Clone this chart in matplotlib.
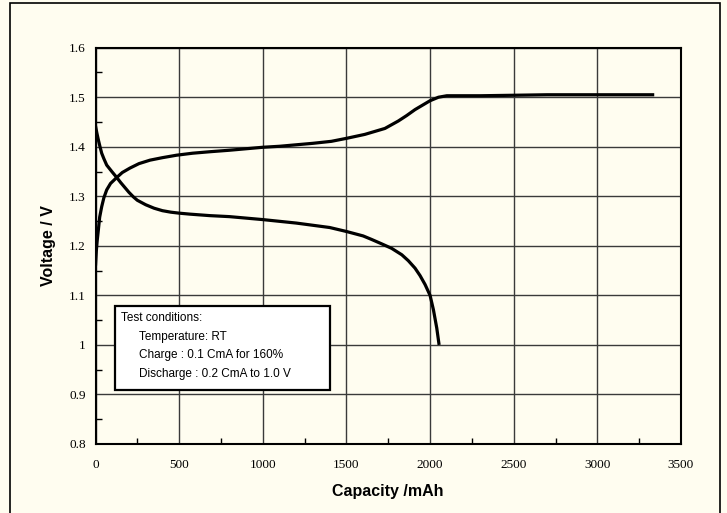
import matplotlib.pyplot as plt
from matplotlib.patches import Rectangle
from matplotlib.ticker import MultipleLocator

# charge curve (capacity mAh, voltage V)
charge_cap = [0, 5, 10, 17, 25, 37, 50, 67, 90, 127, 160, 206, 260, 326, 400, 485, 580, 684,
              800, 900, 1000, 1100, 1200, 1300, 1410, 1500, 1610, 1730, 1810, 1860, 1910, 1960,
              2000, 2050, 2100, 2300, 2500, 2700, 3000, 3340]
charge_v = [1.160, 1.190, 1.210, 1.232, 1.258, 1.279, 1.297, 1.313, 1.326, 1.338, 1.348, 1.357,
            1.366, 1.373, 1.378, 1.383, 1.387, 1.390, 1.393, 1.396, 1.399, 1.401, 1.404, 1.407,
            1.411, 1.417, 1.425, 1.437, 1.452, 1.463, 1.475, 1.485, 1.493, 1.500, 1.503, 1.503,
            1.504, 1.505, 1.505, 1.505]

# discharge curve
dis_cap = [0, 8, 17, 27, 37, 50, 67, 100, 127, 150, 200, 226, 250, 300, 350, 400, 450, 500,
           565, 684, 800, 1000, 1200, 1400, 1500, 1600, 1650, 1711, 1770, 1831, 1870, 1910,
           1940, 1970, 2000, 2020, 2040, 2054]
dis_v = [1.442, 1.428, 1.414, 1.400, 1.387, 1.376, 1.363, 1.349, 1.338, 1.328, 1.308, 1.299,
         1.292, 1.283, 1.276, 1.271, 1.268, 1.266, 1.264, 1.261, 1.259, 1.253, 1.246, 1.237,
         1.229, 1.220, 1.213, 1.204, 1.195, 1.182, 1.170, 1.155, 1.140, 1.122, 1.100, 1.071,
         1.034, 1.000]

x_ticks = [0, 500, 1000, 1500, 2000, 2500, 3000, 3500]
y_ticks = [0.8, 0.9, 1.0, 1.1, 1.2, 1.3, 1.4, 1.5, 1.6]
y_labels = ["0.8", "0.9", "1", "1.1", "1.2", "1.3", "1.4", "1.5", "1.6"]

conditions = ["Test conditions:", "Temperature: RT", "Charge : 0.1 CmA for 160%",
              "Discharge : 0.2 CmA to 1.0 V"]

bg = "#FFFDF0"
fig = plt.figure(figsize=(7.27, 5.13), dpi=100, facecolor=bg)
ax = fig.add_axes([95.5/727, 1-444/513, (681-95.5)/727, (444-47.7)/513])
ax.set_facecolor(bg)

# outer frame
fig.patches.append(Rectangle((10/727, -0.01), 710/727, 1.0-3/513+0.01, transform=fig.transFigure,
                             fill=False, edgecolor="black", linewidth=1.2))

ax.plot(charge_cap, charge_v, color="black", lw=2.3, zorder=3, solid_capstyle="butt",
        solid_joinstyle="round")
ax.plot(dis_cap, dis_v, color="black", lw=2.3, zorder=3, solid_capstyle="butt",
        solid_joinstyle="round")

ax.set_xlim(0, 3500)
ax.set_ylim(0.8, 1.6)
ax.set_xticks(x_ticks)
ax.set_yticks(y_ticks)
ax.set_yticklabels(y_labels)
ax.xaxis.set_minor_locator(MultipleLocator(250))
ax.yaxis.set_minor_locator(MultipleLocator(0.05))
ax.tick_params(which="both", direction="in", length=4, width=1, color="black")
ax.tick_params(axis="y", which="major", length=0, pad=7)
ax.tick_params(axis="x", which="major", length=0, pad=11)
for lab in ax.get_xticklabels() + ax.get_yticklabels():
    lab.set_family("Liberation Serif")
    lab.set_fontsize(9.5)
ax.grid(True, which="major", color="#3a3a3a", lw=1.0)
ax.set_axisbelow(True)
for s in ax.spines.values():
    s.set_linewidth(1.5)

ax.set_xlabel("Capacity /mAh", family="Liberation Sans", fontsize=11.5, fontweight="bold", labelpad=9)
ax.set_ylabel("Voltage / V", family="Liberation Sans", fontsize=11.5, fontweight="bold", labelpad=9)

# test condition box
ax.add_patch(Rectangle((117, 0.909), 1285, 0.170, facecolor="white", edgecolor="black",
                       linewidth=1.6, zorder=4))
ypos = [1.055, 1.017, 0.979, 0.941]
xpos = [150, 260, 260, 260]
for t, xx, yy in zip(conditions, xpos, ypos):
    ax.text(xx, yy, t, family="Liberation Sans", fontsize=8.5, va="center", ha="left", zorder=5)

fig.savefig("out.png", dpi=100, facecolor=bg)
